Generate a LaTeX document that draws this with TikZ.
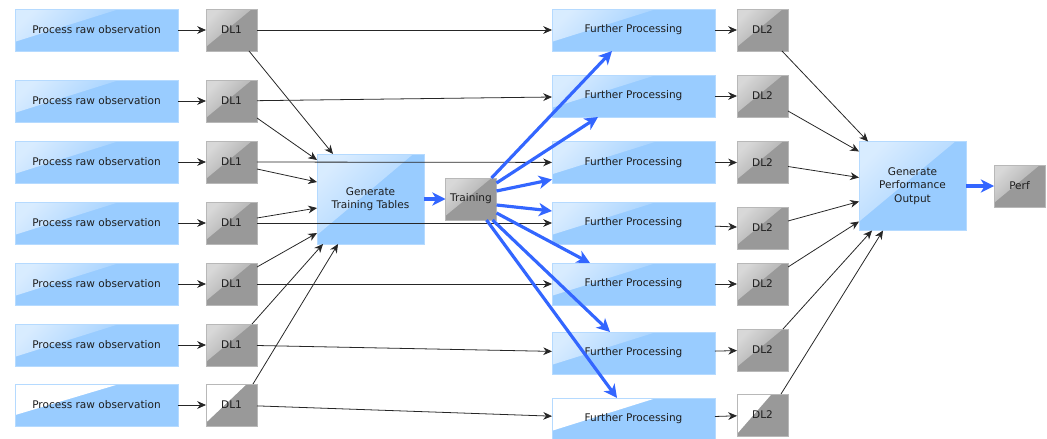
\documentclass[tikz,border=0pt]{standalone}
\usepackage{fontspec}
\setmainfont{DejaVu Sans}
\usetikzlibrary{arrows.meta,calc}
\definecolor{boxblue}{HTML}{99CCFF}
\definecolor{boxblueline}{HTML}{B5DAFF}
\definecolor{boxgray}{HTML}{999999}
\definecolor{boxgrayline}{HTML}{B8B8B8}
\definecolor{flowblue}{HTML}{3366FF}
\definecolor{linecol}{HTML}{262626}
\definecolor{txtcol}{HTML}{1E1E1E}
\newcommand\glossfill[3]{%
  \coordinate (gnw) at (path picture bounding box.north west);
  \coordinate (gtp) at ($(path picture bounding box.north west)!#2!(path picture bounding box.north east)$);
  \coordinate (glf) at ($(path picture bounding box.north west)!#3!(path picture bounding box.south west)$);
  \begin{scope}
    \clip (gnw) -- (gtp) -- (glf) -- cycle;
    \shade[top color=white!62!#1, middle color=white!22!#1, bottom color=white!8!#1, shading angle=45]
      (gnw) rectangle (gtp |- glf);
  \end{scope}}
\newcommand\glitchfill[2]{%
  \fill[white] (path picture bounding box.north west)
      -- ($(path picture bounding box.north west)!#1!(path picture bounding box.north east)$)
      -- ($(path picture bounding box.north west)!#2!(path picture bounding box.south west)$) -- cycle;}
\begin{document}
\begin{tikzpicture}[x=0.02cm,y=-0.02cm,
  base/.style={rectangle, inner sep=0pt, outer sep=0pt, font=\fontsize{6}{7.6}\selectfont, text=txtcol, align=center, line width=0.4pt},
  bluebox/.style={base, fill=boxblue, draw=boxblueline},
  widebox/.style={bluebox, minimum width=3.26cm, minimum height=0.84cm, path picture={\glossfill{boxblue}{0.64}{0.78}}},
  bigbox/.style={bluebox, minimum width=2.14cm, minimum height=1.8cm, path picture={\glossfill{boxblue}{0.9}{0.9}}},
  graybox/.style={base, fill=boxgray, draw=boxgrayline, minimum width=1.02cm, minimum height=0.84cm, path picture={\glossfill{boxgray}{0.9}{0.9}}},
  blk/.style={draw=linecol, line width=0.45pt, -{Stealth[length=5pt,width=4.4pt,inset=1.6pt]}},
  flow/.style={draw=flowblue, line width=1.8pt, -{Stealth[length=7.5pt,width=7.5pt,inset=2.2pt]}},
]
\useasboundingbox (0,0) rectangle (1047,439);

\foreach \i/\ya/\yf/\yb in {1/30/30/30, 2/101/96/96, 3/162/162.5/162.5, 4/223/223/228, 5/284/284/284, 6/345/353/350}{
  \node[widebox] (p\i) at (96.5,\ya) {Process raw observation};
  \node[graybox] (a\i) at (231.5,\ya) {DL1};
  \node[widebox] (f\i) at (633.5,\yf) {Further Processing};
  \node[graybox] (b\i) at (762.5,\yb) {DL2};
}
\node[widebox, path picture={\glitchfill{0.64}{0.74}}] (p7) at (96.5,405) {Process raw observation};
\node[graybox, path picture={\glitchfill{0.8}{0.92}}] (a7) at (231.5,405) {DL1};
\node[widebox, path picture={\glitchfill{0.64}{0.78}}] (f7) at (633.5,419) {Further Processing};
\node[graybox, path picture={\glitchfill{0.68}{0.95}}] (b7) at (762.5,415) {DL2};

\node[bigbox] (gtt) at (370.5,199) {Generate\\Training Tables};
\node[graybox] (tr) at (471,199) {Training};
\node[bigbox, minimum height=1.78cm] (gpo) at (912.5,186) {Generate\\Performance\\Output};
\node[graybox] (perf) at (1019.5,186) {Perf};

\foreach \i in {1,...,7}{
  \draw[blk] (p\i) -- (a\i);
  \draw[blk] (a\i) -- (f\i);
  \draw[blk] (f\i) -- (b\i);
}

% DL1 -> Generate Training Tables
\draw[blk] ($(a1.south east)+(-8,0)$) -- ($(gtt.north west)+(16,0)$);
\draw[blk] ($(a2.east)+(0,17)$) -- ($(gtt.north west)+(0,6)$);
\draw[blk] ($(a3.east)+(0,7)$) -- ($(gtt.north west)+(0,28)$);
\draw[blk] ($(a4.east)+(0,-5)$) -- ($(gtt.north west)+(0,54)$);
\draw[blk] ($(a5.east)+(0,-17)$) -- ($(gtt.north west)+(0,79)$);
\draw[blk] ($(a6.north east)+(-5,0)$) -- ($(gtt.south west)+(6,0)$);
\draw[blk] ($(a7.north east)+(-4,0)$) -- ($(gtt.south west)+(21,0)$);

% flows
\draw[flow] (gtt) -- (tr);
\draw[flow] ($(tr.north east)+(-5,0)$) -- ($(f1.south west)+(60,0)$);
\draw[flow] ($(tr.north east)+(0,5)$) -- ($(f2.south west)+(46,0)$);
\draw[flow] ($(tr.east)+(0,-8)$) -- ($(f3.west)+(0,17)$);
\draw[flow] ($(tr.east)+(0,6)$) -- ($(f4.west)+(0,-12)$);
\draw[flow] ($(tr.east)+(0,14)$) -- ($(f5.north west)+(38,0)$);
\draw[flow] ($(tr.south east)+(-4,0)$) -- ($(f6.north west)+(58,0)$);
\draw[flow] ($(tr.south east)+(-10,0)$) -- ($(f7.north west)+(65,0)$);

% DL2 -> Generate Performance Output
\draw[blk] ($(b1.south east)+(-6,0)$) -- ($(gpo.north west)+(9,0)$);
\draw[blk] ($(b2.east)+(0,15)$) -- ($(gpo.north west)+(0,10)$);
\draw[blk] ($(b3.east)+(0,4)$) -- ($(gpo.north west)+(0,36)$);
\draw[blk] ($(b4.east)+(0,-7)$) -- ($(gpo.north west)+(0,60)$);
\draw[blk] ($(b5.east)+(0,-17)$) -- ($(gpo.north west)+(0,80)$);
\draw[blk] ($(b6.north east)+(-5,0)$) -- ($(gpo.south west)+(13,0)$);
\draw[blk] ($(b7.north east)+(-7,0)$) -- ($(gpo.south west)+(24,0)$);

\draw[flow] (gpo) -- (perf);
\end{tikzpicture}
\end{document}
